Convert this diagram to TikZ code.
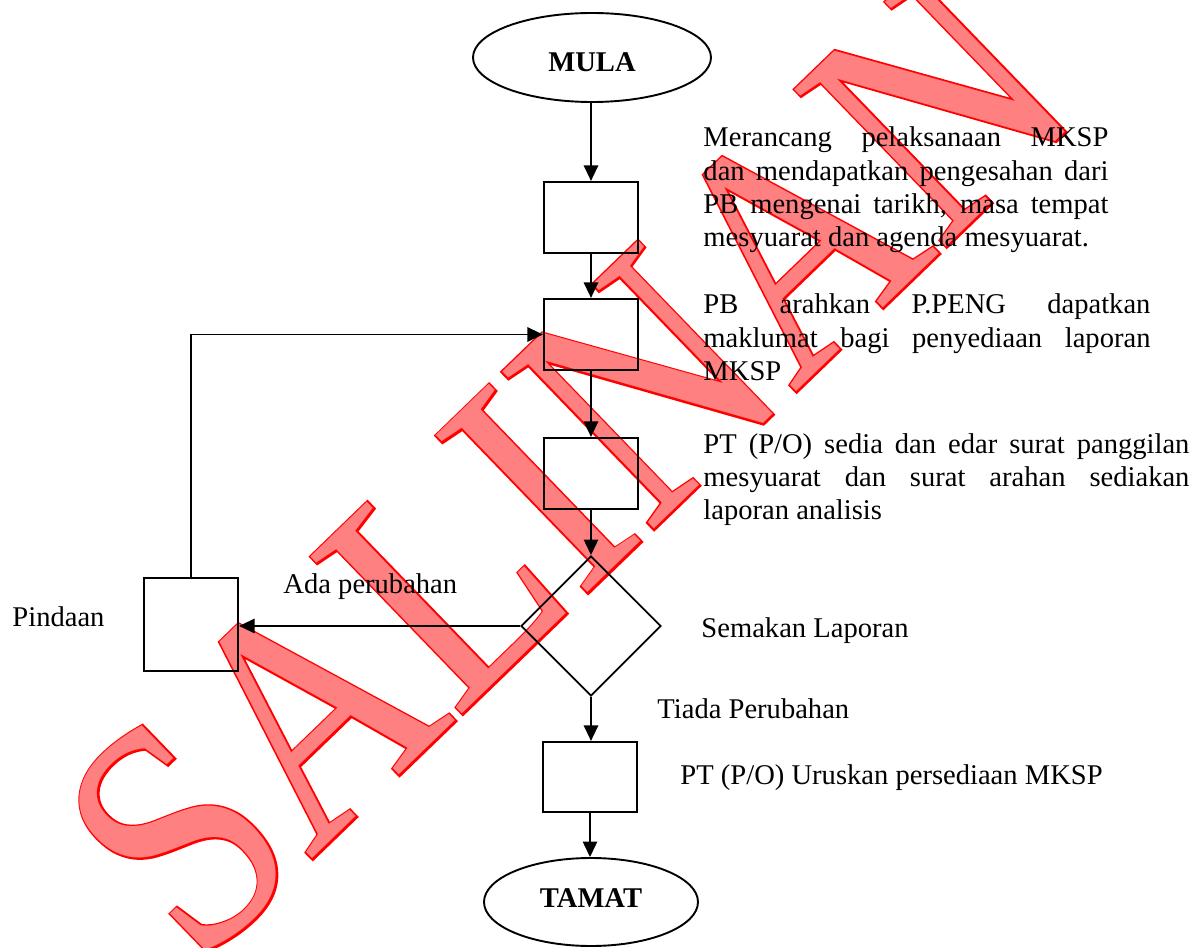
\documentclass[tikz,border=0pt]{standalone}
\usepackage{fontspec}
\setmainfont{Liberation Serif}
\newfontfamily\wmbold[FakeBold=1.2]{Liberation Serif}
\usetikzlibrary{shapes.geometric,arrows.meta}
\begin{document}
\begin{tikzpicture}[x=0.42pt,y=-0.42pt,
  every node/.style={font=\fontsize{12}{13.9}\selectfont},
  stepbox/.style={draw, line width=0.9pt, minimum width={94*0.42pt}, minimum height={71*0.42pt}, inner sep=0pt},
  term/.style={draw, ellipse, line width=0.8pt, inner sep=0pt},
  termtext/.style={anchor=base, inner sep=0pt, font=\bfseries\fontsize{12}{14}\selectfont},
  decision/.style={draw, diamond, aspect=1, minimum width={140*0.42pt}, minimum height={140*0.42pt}, inner sep=0pt, line width=0.8pt},
  flow/.style={draw, line width=0.8pt, -{Triangle[length=6.5pt,width=6pt]}},
  para/.style={anchor=base west, inner sep=0pt, align=justify},
  lbl/.style={anchor=base west, inner sep=0pt},
  wm/.style={rotate=44, xscale=0.845, inner sep=0pt}
]
\useasboundingbox (0,0) rectangle (1199,948);

% watermark
\node[wm, text=red, font=\wmbold\fontsize{140}{140}\selectfont] (wmedge) at (567,462) {SALINAN};
\node[wm, text=red!50, font=\fontsize{140}{140}\selectfont] (wmfill) at (567,462) {SALINAN};

% shapes
\node[term, minimum width={238*0.42pt}, minimum height={89*0.42pt}] (mula) at (592,57.5) {};
\node[termtext] (mulatxt) at (592,72) {MULA};
\node[stepbox] (b1) at (591,217.5) {};
\node[stepbox] (b2) at (591,334.5) {};
\node[stepbox] (b3) at (591,473.5) {};
\node[decision] (dec) at (591,626) {};
\node[stepbox, minimum height={93*0.42pt}] (pind) at (191,624.5) {};
\node[stepbox, minimum height={70*0.42pt}] (b5) at (590,777) {};
\node[term, minimum width={214*0.42pt}, minimum height={88*0.42pt}] (tamat) at (591,902) {};
\node[termtext] (tamattxt) at (591,907) {TAMAT};

% connectors
\draw[flow] (mula.south -| b1.north) -- (b1.north);
\draw[flow] (b1.south) -- (b2.north);
\draw[flow] (b2.south) -- (b3.north);
\draw[flow] (b3.south) -- (dec.north);
\draw[flow] (dec.west) -- (dec.west -| pind.east);
\draw[flow] (pind.north) |- (b2.west);
\draw[flow] (dec.south) -- (dec.south |- b5.north);
\draw[flow] (b5.south) -- (b5.south |- tamat.north);

% texts
\node[para, text width={405*0.42pt}] (t1) at (703,147) {Merancang pelaksanaan MKSP\linebreak dan mendapatkan pengesahan dari\linebreak PB mengenai tarikh, masa tempat\linebreak mesyuarat dan agenda mesyuarat.};
\node[para, text width={447*0.42pt}] (t2) at (703,314) {PB arahkan P.PENG dapatkan\linebreak maklumat bagi penyediaan laporan\linebreak MKSP};
\node[para, text width={486*0.42pt}] (t3) at (703,453) {PT (P/O) sedia dan edar surat panggilan\linebreak mesyuarat dan surat arahan sediakan\linebreak laporan analisis};
\node[lbl] (semak) at (701,637) {Semakan Laporan};
\node[lbl] (tiada) at (657,718) {Tiada Perubahan};
\node[lbl] (uruskan) at (680,784) {PT (P/O) Uruskan persediaan MKSP};
\node[lbl] (ada) at (283,593) {Ada perubahan};
\node[lbl] (pindtxt) at (12,626) {Pindaan};
\end{tikzpicture}
\end{document}
